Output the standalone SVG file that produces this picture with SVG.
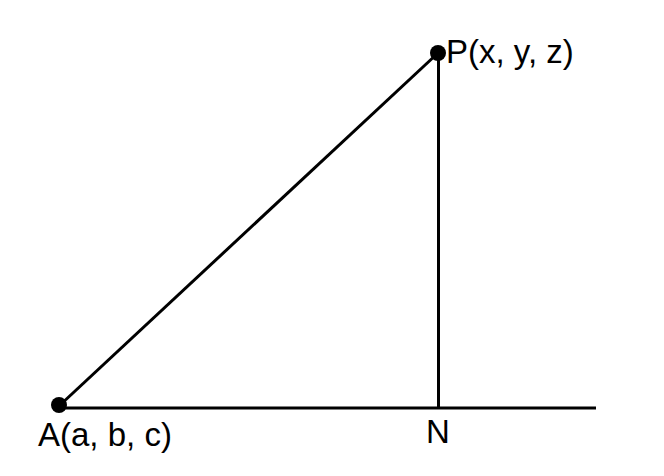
<svg xmlns="http://www.w3.org/2000/svg" width="664" height="476" viewBox="0 0 664 476">
<style>
.ln{stroke:#000;stroke-width:3;fill:none}
.dot{fill:#000}
.lbl{font-family:"Liberation Sans",Arial,sans-serif;font-size:33px;fill:#000}
</style>
<rect width="664" height="476" fill="#fff"/>
<g id="connectors">
<line class="ln" x1="59" y1="406" x2="438" y2="53"/>
<line class="ln" x1="438.5" y1="53" x2="438.5" y2="408"/>
<line class="ln" x1="59" y1="408" x2="596" y2="408"/>
</g>
<g id="P">
<circle class="dot" cx="438" cy="53" r="8"/>
<text class="lbl" x="446" y="63">P(x, y, z)</text>
</g>
<g id="A">
<circle class="dot" cx="59" cy="405" r="8"/>
<text class="lbl" x="38" y="446">A(a, b, c)</text>
</g>
<g id="N">
<text class="lbl" x="426" y="443">N</text>
</g>
</svg>
